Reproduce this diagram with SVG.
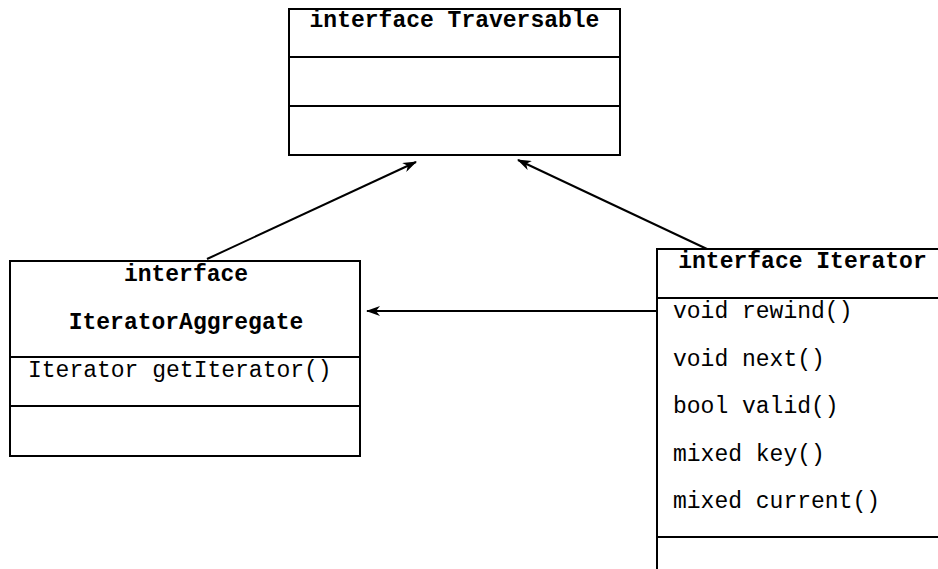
<svg xmlns="http://www.w3.org/2000/svg" width="938" height="569" viewBox="0 0 938 569">
<defs>
<marker id="arr" viewBox="0 0 14 10" refX="13" refY="5" markerWidth="14" markerHeight="10" markerUnits="userSpaceOnUse" orient="auto">
<path d="M0,0 L14,5 L0,10 L4,5 Z" fill="#000"/>
</marker>
<style>
.box{fill:#fff;stroke:#000;stroke-width:2}
.div{stroke:#000;stroke-width:2}
.hd{font-family:"Liberation Mono","DejaVu Sans Mono",monospace;font-size:23px;font-weight:bold;fill:#000}
.tx{font-family:"Liberation Mono","DejaVu Sans Mono",monospace;font-size:23px;fill:#000}
.con{stroke:#000;stroke-width:2;fill:none;marker-end:url(#arr)}
</style>
</defs>
<rect width="938" height="569" fill="#fff"/>
<g id="connectors">
<line class="con" x1="207" y1="259" x2="416" y2="162"/>
<line class="con" x1="707" y1="249" x2="518" y2="160"/>
<line class="con" x1="657" y1="311" x2="367" y2="311"/>
</g>
<g id="traversable">
<rect class="box" x="289" y="9" width="331" height="146"/>
<line class="div" x1="289" y1="57" x2="620" y2="57"/>
<line class="div" x1="289" y1="106" x2="620" y2="106"/>
<text class="hd" x="454.5" y="27" text-anchor="middle">interface Traversable</text>
</g>
<g id="iteratoraggregate">
<rect class="box" x="10" y="261" width="350" height="195"/>
<line class="div" x1="10" y1="357" x2="360" y2="357"/>
<line class="div" x1="10" y1="406" x2="360" y2="406"/>
<text class="hd" x="186" y="281" text-anchor="middle">interface</text>
<text class="hd" x="186" y="329" text-anchor="middle">IteratorAggregate</text>
<text class="tx" x="28" y="377">Iterator getIterator()</text>
</g>
<g id="iterator">
<rect class="box" x="657" y="249" width="300" height="340"/>
<line class="div" x1="657" y1="298" x2="957" y2="298"/>
<line class="div" x1="657" y1="537" x2="957" y2="537"/>
<text class="hd" x="802.5" y="268" text-anchor="middle">interface Iterator</text>
<text class="tx" x="673" y="318">void rewind()</text>
<text class="tx" x="673" y="365.5">void next()</text>
<text class="tx" x="673" y="413">bool valid()</text>
<text class="tx" x="673" y="460.5">mixed key()</text>
<text class="tx" x="673" y="508">mixed current()</text>
</g>
</svg>
